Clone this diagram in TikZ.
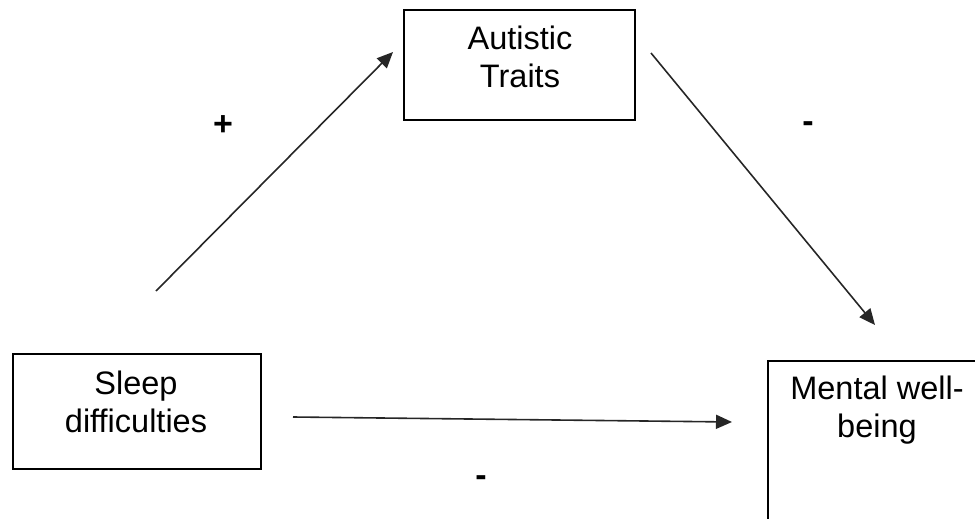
\documentclass[tikz,border=0pt]{standalone}
\usepackage{fontspec}
\setmainfont{Liberation Sans}
\usetikzlibrary{arrows.meta}
\tikzset{
  box/.style={draw=black, line width=2pt, rectangle, inner sep=0pt, anchor=north west},
  boxtext/.style={font=\fontsize{32.5}{38}\selectfont, align=center, anchor=base, inner sep=0pt},
  sign/.style={font=\fontsize{34}{40}\selectfont\bfseries, inner sep=0pt},
  path/.style={draw=black!85, line width=1.6pt, -{Triangle[length=16pt,width=14pt]}}
}
\begin{document}
\begin{tikzpicture}[x=1pt,y=-1pt]
  \useasboundingbox (0,0) rectangle (975,519);
  \clip (0,0) rectangle (975,519);

  % boxes
  \node[box, minimum width=231pt, minimum height=110pt] (at) at (403,9) {};
  \node[box, minimum width=248pt, minimum height=115pt] (sd) at (12,353) {};
  \node[box, minimum width=222pt, minimum height=190pt] (mw) at (767,360) {};

  % box labels (anchored at the baseline of the last line)
  \node[boxtext] (attext) at (520,88) {Autistic\\Traits};
  \node[boxtext] (sdtext) at (136,432) {Sleep\\difficulties};
  \node[boxtext] (mwtext) at (877,437) {Mental well-\\being};

  % connector end points
  \coordinate (a1) at (156,291);
  \coordinate (a2) at (393,52);
  \coordinate (b1) at (651,53);
  \coordinate (b2) at (875,325);
  \coordinate (c1) at (293,417);
  \coordinate (c2) at (732,422);

  \draw[path] (a1) -- (a2);
  \draw[path] (b1) -- (b2);
  \draw[path] (c1) -- (c2);

  % path signs
  \node[sign] (plus) at (223,126) {+};
  \node[sign] (minusa) at (808,127) {-};
  \node[sign] (minusb) at (481,481) {-};
\end{tikzpicture}
\end{document}
